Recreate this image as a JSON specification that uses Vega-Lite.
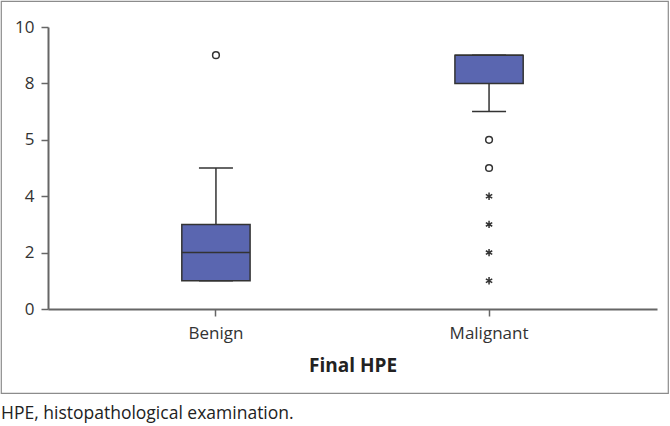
{
  "$schema": "https://vega.github.io/schema/vega-lite/v6.json",
  "width": 667,
  "height": 392,
  "autosize": "none",
  "padding": {"left": 1, "top": 1, "right": 2, "bottom": 33},
  "title": {
    "text": "HPE, histopathological examination.",
    "orient": "bottom",
    "anchor": "start",
    "offset": 12,
    "font": "Open Sans",
    "fontSize": 17.5,
    "fontWeight": "normal",
    "color": "#222222"
  },
  "config": {
    "view": {"stroke": "#8c8c8c", "strokeWidth": 1.2},
    "font": "Open Sans"
  },
  "datasets": {
    "boxes": [
      {"group": "Benign", "lower": 1, "q1": 1, "median": 2, "q3": 3, "upper": 5},
      {"group": "Malignant", "lower": 7, "q1": 8, "median": 9, "q3": 9, "upper": 9}
    ],
    "outliers": [
      {"group": "Benign", "value": 9, "kind": "outlier"},
      {"group": "Malignant", "value": 6, "kind": "outlier"},
      {"group": "Malignant", "value": 5, "kind": "outlier"},
      {"group": "Malignant", "value": 4, "kind": "extreme"},
      {"group": "Malignant", "value": 3, "kind": "extreme"},
      {"group": "Malignant", "value": 2, "kind": "extreme"},
      {"group": "Malignant", "value": 1, "kind": "extreme"}
    ]
  },
  "encoding": {
    "x": {
      "field": "group",
      "type": "nominal",
      "sort": ["Benign", "Malignant"],
      "scale": {"range": [47, 656], "paddingInner": 0.75, "paddingOuter": 0.49},
      "axis": {
        "title": "Final HPE",
        "orient": "bottom",
        "offset": -84,
        "labelAngle": 0,
        "labelFontSize": 17,
        "labelColor": "#333333",
        "labelPadding": 9,
        "tickSize": 7,
        "tickColor": "#666666",
        "tickWidth": 1.5,
        "domainColor": "#666666",
        "domainWidth": 2,
        "titleFontSize": 19,
        "titleFontWeight": "bold",
        "titleColor": "#222222",
        "titlePadding": 15
      }
    }
  },
  "layer": [
    {
      "data": {"name": "boxes"},
      "mark": {"type": "rule", "color": "#333333", "strokeWidth": 1.5},
      "encoding": {
        "y": {
          "field": "upper",
          "type": "quantitative",
          "scale": {"domain": [0, 10], "range": [308, 26], "nice": false, "zero": false},
          "axis": {
            "title": null,
            "orient": "left",
            "offset": -47,
            "values": [0, 2, 4, 6, 8, 10],
            "labelExpr": "datum.value == 6 ? '5' : datum.label",
            "grid": false,
            "labelFontSize": 17,
            "labelColor": "#333333",
            "labelPadding": 7,
            "tickSize": 7,
            "tickColor": "#666666",
            "tickWidth": 1.5,
            "domainColor": "#666666",
            "domainWidth": 2
          }
        },
        "y2": {"field": "q3"}
      }
    },
    {
      "data": {"name": "boxes"},
      "mark": {"type": "rule", "color": "#333333", "strokeWidth": 1.5},
      "encoding": {
        "y": {"field": "lower", "type": "quantitative"},
        "y2": {"field": "q1"}
      }
    },
    {
      "data": {"name": "boxes"},
      "mark": {"type": "bar", "fill": "#5a66b0", "stroke": "#333333", "strokeWidth": 1.5},
      "encoding": {
        "y": {"field": "q1", "type": "quantitative"},
        "y2": {"field": "q3"}
      }
    },
    {
      "data": {"name": "boxes"},
      "mark": {"type": "tick", "orient": "horizontal", "color": "#333333", "size": 68, "thickness": 1.5, "opacity": 1},
      "encoding": {
        "y": {"field": "median", "type": "quantitative"}
      }
    },
    {
      "data": {"name": "boxes"},
      "mark": {"type": "tick", "orient": "horizontal", "color": "#333333", "size": 34, "thickness": 1.5, "opacity": 1},
      "encoding": {
        "y": {"field": "upper", "type": "quantitative"}
      }
    },
    {
      "data": {"name": "boxes"},
      "mark": {"type": "tick", "orient": "horizontal", "color": "#333333", "size": 34, "thickness": 1.5, "opacity": 1},
      "encoding": {
        "y": {"field": "lower", "type": "quantitative"}
      }
    },
    {
      "data": {"name": "outliers"},
      "mark": {"type": "point", "filled": false, "stroke": "#333333", "strokeWidth": 1.5, "size": 45, "opacity": 1},
      "encoding": {
        "y": {"field": "value", "type": "quantitative"},
        "shape": {
          "field": "kind",
          "type": "nominal",
          "scale": {
            "domain": ["outlier", "extreme"],
            "range": ["circle", "M0,-1.1L0,1.1M-0.95,-0.55L0.95,0.55M-0.95,0.55L0.95,-0.55"]
          },
          "legend": null
        }
      }
    }
  ]
}
